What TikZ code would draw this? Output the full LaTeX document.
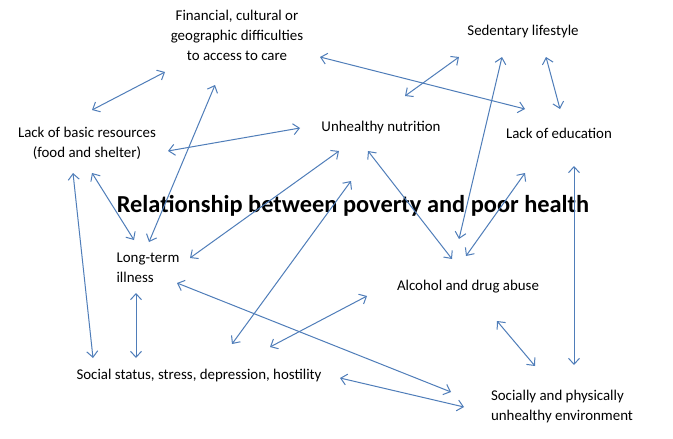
\documentclass[tikz,border=0pt]{standalone}
\usepackage{fontspec}
\setmainfont{Carlito}
\usetikzlibrary{arrows.meta}
\definecolor{arr}{RGB}{79,125,185}
\begin{document}
\begin{tikzpicture}[x=1pt,y=-1pt,
  lbl/.style={inner sep=0pt,font=\fontsize{14.9}{20}\selectfont,align=center},
  lbll/.style={lbl,align=left},
  ttl/.style={inner sep=0pt,font=\fontsize{24.4}{27}\selectfont\bfseries},
  link/.style={draw=arr,line width=1pt,{Straight Barb[length=6pt,width=11pt]}-{Straight Barb[length=6pt,width=11pt]}}]
\useasboundingbox (0,0) rectangle (673,439);
\fill[white] (0,0) rectangle (673,439);
\node[lbl] (fin) at (237,35) {Financial, cultural or\\geographic difficulties\\to access to care};
\node[lbl] (sed) at (523,32) {Sedentary lifestyle};
\node[lbl] (lack) at (87,143) {Lack of basic resources\\(food and shelter)};
\node[lbl] (nut) at (381,128) {Unhealthy nutrition};
\node[lbl] (edu) at (559,133) {Lack of education};
\node[ttl] (title) at (353,206) {Relationship between poverty and poor health};
\node[lbll] (lti) at (148,268) {Long-term\\illness};
\node[lbl] (alc) at (468,287) {Alcohol and drug abuse};
\node[lbl] (soc) at (199,376) {Social status, stress, depression, hostility};
\node[lbll] (env) at (562,407) {Socially and physically\\unhealthy environment};
\draw[link] ([shift={(5,-33)}]lack.center) -- ([shift={(-72,37)}]fin.center);
\draw[link] ([shift={(-22,50)}]fin.center) -- ([shift={(1,-26)}]lti.center);
\draw[link] ([shift={(81,8)}]lack.center) -- ([shift={(-81,0)}]nut.center);
\draw[link] ([shift={(5,30)}]lack.center) -- ([shift={(-14,-28)}]lti.center);
\draw[link] ([shift={(-14,30)}]lack.center) -- ([shift={(-106,-18)}]soc.center);
\draw[link] ([shift={(42,-10)}]lti.center) -- ([shift={(-42,23)}]nut.center);
\draw[link] ([shift={(33,-32)}]soc.center) -- ([shift={(-30,53)}]nut.center);
\draw[link] ([shift={(71,-29)}]soc.center) -- ([shift={(-101,9)}]alc.center);
\draw[link] ([shift={(29,15)}]lti.center) -- ([shift={(-111,-15)}]env.center);
\draw[link] ([shift={(141,2)}]soc.center) -- ([shift={(-98,0)}]env.center);
\draw[link] ([shift={(-12,25)}]lti.center) -- ([shift={(-63,-18)}]soc.center);
\draw[link] ([shift={(-13,23)}]nut.center) -- ([shift={(-16,-28)}]alc.center);
\draw[link] ([shift={(-21,25)}]sed.center) -- ([shift={(-9,-48)}]alc.center);
\draw[link] ([shift={(-34,40)}]edu.center) -- ([shift={(-2,-31)}]alc.center);
\draw[link] ([shift={(15,33)}]edu.center) -- ([shift={(12,-42)}]env.center);
\draw[link] ([shift={(29,34)}]alc.center) -- ([shift={(-27,-41)}]env.center);
\draw[link] ([shift={(23,25)}]sed.center) -- ([shift={(1,-24)}]edu.center);
\draw[link] ([shift={(-64,25)}]sed.center) -- ([shift={(24,-32)}]nut.center);
\draw[link] ([shift={(83,22)}]fin.center) -- ([shift={(-34,-24)}]edu.center);
\end{tikzpicture}
\end{document}
